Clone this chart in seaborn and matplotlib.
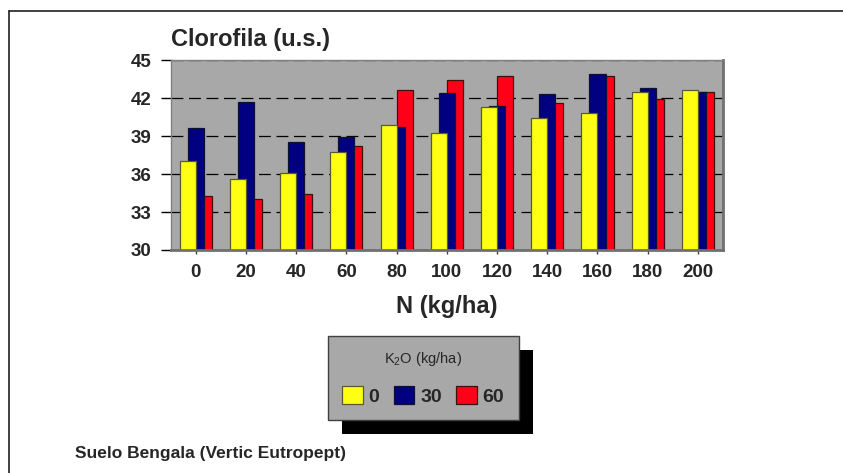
import matplotlib
matplotlib.use("Agg")
import matplotlib.pyplot as plt
from matplotlib.lines import Line2D
from matplotlib.patches import Rectangle, Patch
import seaborn as sns

# Chlorophyll readings by nitrogen dose, one series per potassium dose
n_dose = [0, 20, 40, 60, 80, 100, 120, 140, 160, 180, 200]
k2o_0 = [37.0, 35.6, 36.1, 37.7, 39.9, 39.2, 41.3, 40.4, 40.8, 42.5, 42.6]
k2o_30 = [39.6, 41.7, 38.5, 38.9, 39.7, 42.4, 41.4, 42.3, 43.9, 42.8, 42.5]
k2o_60 = [34.3, 34.0, 34.4, 38.2, 42.6, 43.4, 43.7, 41.6, 43.7, 41.9, 42.5]
series_labels = ["0", "30", "60"]
y_ticks = [30, 33, 36, 39, 42, 45]

sns.set_style("white")
plt.rcParams["font.family"] = ["Liberation Sans", "DejaVu Sans"]
plt.rcParams["mathtext.fontset"] = "custom"
plt.rcParams["mathtext.rm"] = "Liberation Sans"

W, H = 843, 473
fig = plt.figure(figsize=(W / 100, H / 100), dpi=100)
fig.patch.set_facecolor("white")

ax = fig.add_axes([170.7 / W, 1 - 250 / H, (723 - 170.7) / W, 190 / H])
ax.set_facecolor("#A8A8A8")

colors = ["#FFFF14", "#000080", "#FF0018"]
edges = ["#5a5a30", "#101030", "#401010"]
offsets = [-3.2, 0.0, 3.2]
series = [k2o_0, k2o_30, k2o_60]

# back to front: 60, 30, 0 so the yellow bars overlap the others
for idx in (2, 1, 0):
    xs = [n + offsets[idx] for n in n_dose]
    sns.barplot(x=xs, y=series[idx], native_scale=True, width=0.32,
                color=colors[idx], saturation=1, errorbar=None,
                edgecolor=edges[idx], linewidth=0.9, ax=ax)

ax.set_xlim(-10, 210)
ax.set_ylim(30, 45)
ax.set_yticks(y_ticks)
ax.set_yticklabels([str(v) for v in y_ticks], fontsize=13.5, fontweight="bold")
ax.set_xticks(n_dose)
ax.set_xticklabels([str(v) for v in n_dose], fontsize=13.5, fontweight="bold")
ax.tick_params(axis="y", direction="out", length=7, width=1, color="black",
               pad=7, left=True)
ax.tick_params(axis="x", direction="out", length=3, width=1, color="#404040",
               pad=7, bottom=True)

ax.set_axisbelow(True)
ax.yaxis.grid(True, color="black", linewidth=0.9, linestyle=(0, (9.5, 4.5)))
ax.xaxis.grid(False)
for side in ("top", "left"):
    ax.spines[side].set_color("#808080")
    ax.spines[side].set_linewidth(1)
for side in ("right", "bottom"):
    ax.spines[side].set_color("#707070")
    ax.spines[side].set_linewidth(2)

ax.set_ylabel("")
ax.set_xlabel("N (kg/ha)", fontsize=17, fontweight="bold")
ax.xaxis.set_label_coords(0.5, (250 - 312.7) / 190)
ax.xaxis.label.set_va("baseline")

fig.text(170.7 / W, 1 - 46 / H, "Clorofila (u.s.)", fontsize=17,
         fontweight="bold", ha="left", va="baseline")
fig.text(75 / W, 1 - 458 / H, "Suelo Bengala (Vertic Eutropept)",
         fontsize=12.5, fontweight="bold", ha="left", va="baseline")

# legend with a hard drop shadow
handles = [Patch(facecolor=c, edgecolor=e, linewidth=0.9)
           for c, e in zip(colors, edges)]
leg = fig.legend(handles, series_labels, title="K$\\mathregular{_2}$O (kg/ha)",
                 loc="center", bbox_to_anchor=(423.3 / W, 1 - 378 / H),
                 ncol=3, fontsize=14, title_fontsize=10.5,
                 handlelength=1.05, handleheight=1.05, handletextpad=0.3,
                 columnspacing=0.75, labelspacing=0.9, borderpad=0.75,
                 frameon=True, fancybox=False, framealpha=1,
                 facecolor="#A8A8A8", edgecolor="#404040")
leg.get_frame().set_linewidth(1)
for t in leg.get_texts():
    t.set_fontweight("bold")

fig.canvas.draw()
bb = leg.get_window_extent()
fig.add_artist(Rectangle(((bb.x0 + 14) / W, (bb.y0 - 14) / H),
                         bb.width / W, bb.height / H, transform=fig.transFigure,
                         facecolor="black", edgecolor="none", zorder=-1))

# outer frame (left and top edges)
fig.add_artist(Line2D([9 / W, 9 / W], [0, 1 - 11 / H], transform=fig.transFigure,
                      color="#202020", linewidth=1.2))
fig.add_artist(Line2D([9 / W, 1], [1 - 11 / H, 1 - 11 / H], transform=fig.transFigure,
                      color="#202020", linewidth=1.2))

fig.savefig("out.png", dpi=100)
